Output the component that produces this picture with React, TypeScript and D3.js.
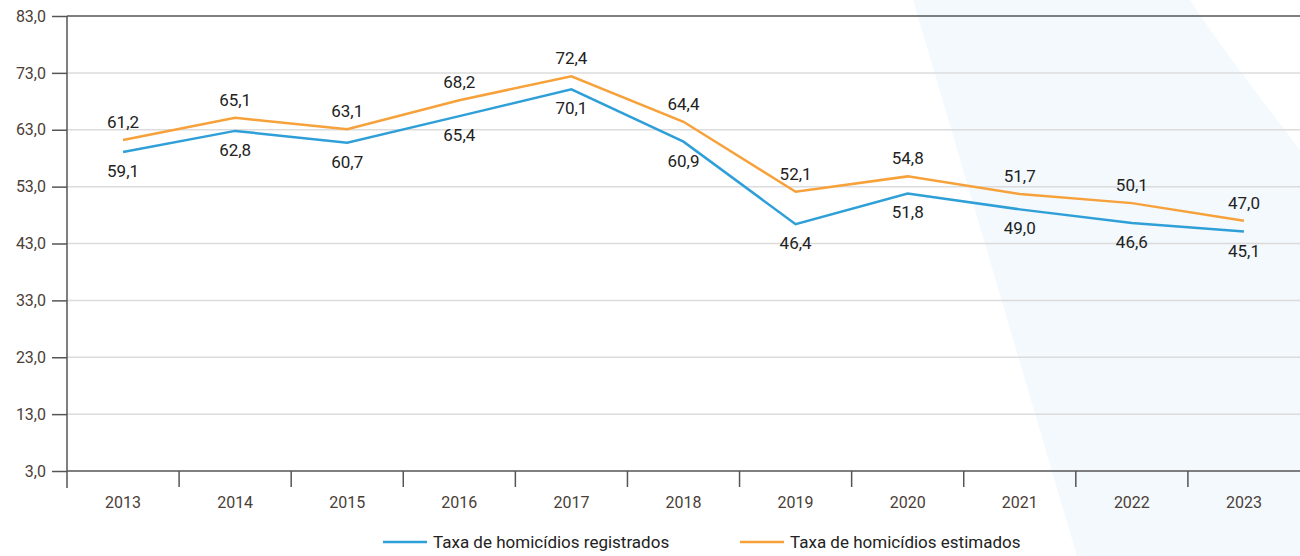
import React, { useEffect, useRef } from 'react';
import * as d3 from 'd3';

const years = ['2013', '2014', '2015', '2016', '2017', '2018', '2019', '2020', '2021', '2022', '2023'];
const registrados = [59.1, 62.8, 60.7, 65.4, 70.1, 60.9, 46.4, 51.8, 49.0, 46.6, 45.1];
const estimados = [61.2, 65.1, 63.1, 68.2, 72.4, 64.4, 52.1, 54.8, 51.7, 50.1, 47.0];
const yTicks = [3, 13, 23, 33, 43, 53, 63, 73, 83];
const seriesNames = ['Taxa de homicídios registrados', 'Taxa de homicídios estimados'];

const BLUE = '#2f9fd8';
const ORANGE = '#f7a13a';
const FONT = "Roboto, sans-serif";

const App: React.FC = () => {
  const svgRef = useRef<SVGSVGElement>(null);

  useEffect(() => {
    if (!svgRef.current) return;
    const svg = d3.select(svgRef.current);
    svg.selectAll('*').remove();

    const width = 1300;
    const height = 556;
    const margin = { top: 16, right: 0, bottom: 85, left: 67 };

    // decorative background band
    svg.append('path')
      .attr('d', 'M913,0 L1190,0 C1230,60 1270,110 1300,150 L1300,556 L1077,556 Z')
      .attr('fill', '#f3f9fd');

    const x = d3.scaleBand<string>()
      .domain(years)
      .range([margin.left, width - margin.right]);

    const y = d3.scaleLinear()
      .domain([3, 83])
      .range([height - margin.bottom, margin.top]);

    const fmt = (v: number) => v.toFixed(1).replace('.', ',');

    // grid
    svg.append('g')
      .selectAll('line')
      .data(yTicks.filter(t => t !== 3 && t !== 83))
      .join('line')
      .attr('x1', margin.left)
      .attr('x2', width)
      .attr('y1', d => y(d))
      .attr('y2', d => y(d))
      .attr('stroke', '#dcdcdc')
      .attr('stroke-width', 1.5);

    // top border
    svg.append('line')
      .attr('x1', margin.left).attr('x2', width)
      .attr('y1', y(83)).attr('y2', y(83))
      .attr('stroke', '#555').attr('stroke-width', 1.5);

    // y axis
    const yAxis = svg.append('g')
      .attr('transform', `translate(${margin.left},0)`)
      .call(d3.axisLeft(y).tickValues(yTicks).tickSize(15).tickPadding(6).tickFormat(d => fmt(d as number)));
    yAxis.select('.domain').remove();
    yAxis.selectAll('line').attr('stroke', '#555').attr('stroke-width', 1.5);
    yAxis.attr('font-family', FONT).attr('font-size', 16);
    yAxis.selectAll('text')
      .attr('fill', '#4a4038')
      .style('font-size', '16px');

    svg.append('line')
      .attr('x1', margin.left).attr('x2', margin.left)
      .attr('y1', y(83)).attr('y2', y(3) + 17)
      .attr('stroke', '#555').attr('stroke-width', 1.5);

    // x axis
    const base = y(3);
    svg.append('line')
      .attr('x1', margin.left).attr('x2', width)
      .attr('y1', base).attr('y2', base)
      .attr('stroke', '#555').attr('stroke-width', 1.5);

    svg.append('g')
      .selectAll('line')
      .data(years.slice(1))
      .join('line')
      .attr('x1', d => x(d)!)
      .attr('x2', d => x(d)!)
      .attr('y1', base)
      .attr('y2', base + 16)
      .attr('stroke', '#555')
      .attr('stroke-width', 1.5);

    svg.append('g')
      .selectAll('text')
      .data(years)
      .join('text')
      .attr('x', d => x(d)! + x.bandwidth() / 2)
      .attr('y', base + 37)
      .attr('text-anchor', 'middle')
      .attr('fill', '#4a4038')
      .attr('font-family', FONT)
      .style('font-size', '16px')
      .text(d => d);

    const cx = (i: number) => x(years[i])! + x.bandwidth() / 2;

    const line = d3.line<number>()
      .x((_, i) => cx(i))
      .y(d => y(d));

    const series = [
      { values: registrados, color: BLUE, dy: 25 },
      { values: estimados, color: ORANGE, dy: -12 },
    ];

    series.forEach(s => {
      svg.append('path')
        .datum(s.values)
        .attr('d', line)
        .attr('fill', 'none')
        .attr('stroke', s.color)
        .attr('stroke-width', 2.5);

      svg.append('g')
        .selectAll('text')
        .data(s.values)
        .join('text')
        .attr('x', (_, i) => cx(i))
        .attr('y', d => y(d) + s.dy)
        .attr('text-anchor', 'middle')
        .attr('fill', '#222')
        .attr('font-family', FONT)
        .style('font-size', '17px')
        .text(d => fmt(d));
    });

    // legend
    const legend = [
      { name: seriesNames[0], color: BLUE, x0: 383 },
      { name: seriesNames[1], color: ORANGE, x0: 740 },
    ];
    legend.forEach(l => {
      svg.append('line')
        .attr('x1', l.x0).attr('x2', l.x0 + 44)
        .attr('y1', 542).attr('y2', 542)
        .attr('stroke', l.color).attr('stroke-width', 2.5);
      svg.append('text')
        .attr('x', l.x0 + 50)
        .attr('y', 548)
        .attr('fill', '#222')
        .attr('font-family', FONT)
        .style('font-size', '17px')
        .text(l.name);
    });
  }, []);

  return (
    <svg ref={svgRef} width={1300} height={556}
      style={{ position: 'absolute', left: 0, top: 0, background: '#fff' }} />
  );
};

export default App;
